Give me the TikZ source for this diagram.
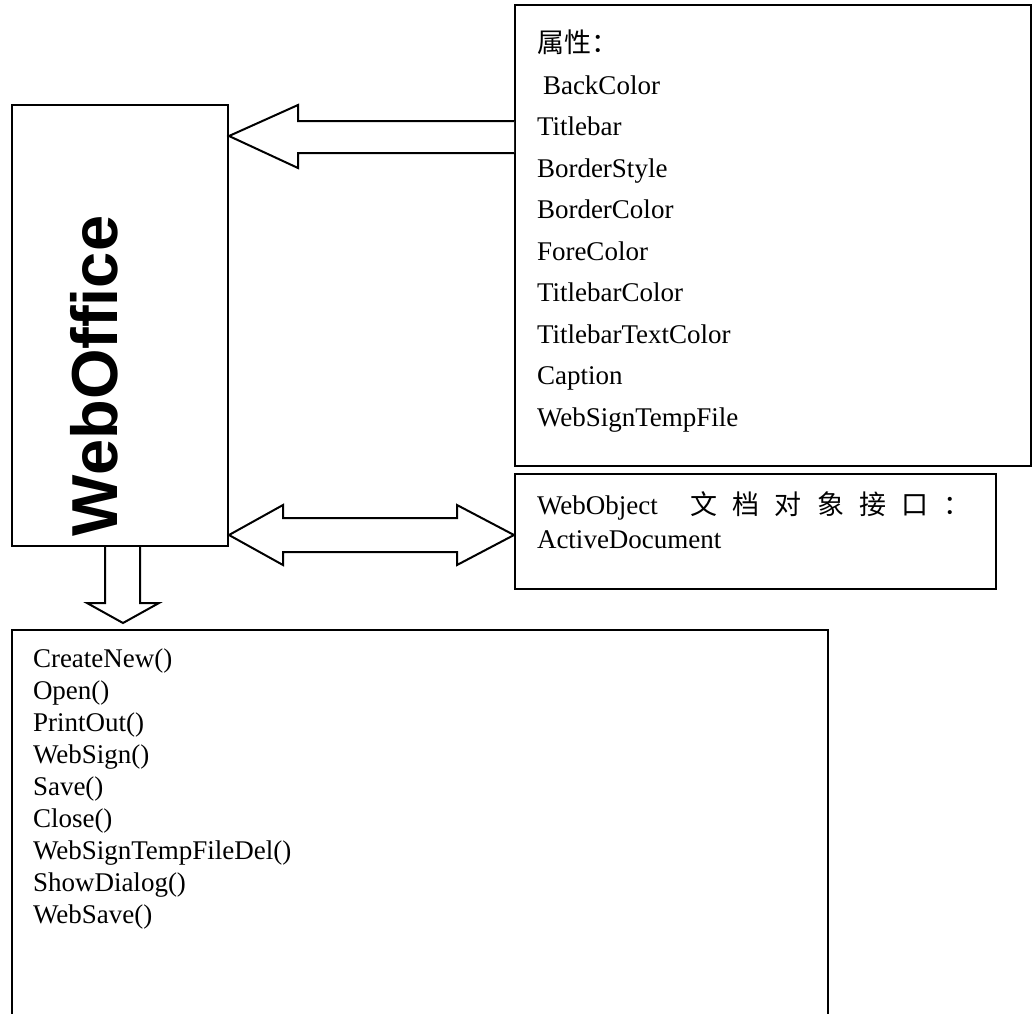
\documentclass[tikz,border=0pt]{standalone}
\usepackage{fontspec}
\setmainfont{Liberation Serif}
\newfontfamily\cjk{Noto Sans CJK SC}
\newfontfamily\titlefont{Liberation Sans}
\begin{document}
\begin{tikzpicture}[x=1pt,y=-1pt,line width=2pt,line join=miter,
  box/.style={draw,rectangle,inner sep=0pt,anchor=north west},
  txt/.style={anchor=base west,inner sep=0pt,font=\fontsize{27}{32}\selectfont},
  hollow/.style={draw,fill=white,line join=miter}]
\useasboundingbox (0,0) rectangle (1033,1013);
% boxes
\node[box,minimum width=216pt,minimum height=441pt] (wo) at (11,104) {};
\node[box,minimum width=516pt,minimum height=461pt] (props) at (514,4) {};
\node[box,minimum width=481pt,minimum height=115pt] (wobj) at (514,473) {};
\node[box,minimum width=816pt,minimum height=420pt] (meth) at (11,629) {};
% title
\node[rotate=90,anchor=base west,inner sep=0pt,font=\titlefont\bfseries\fontsize{65}{65}\selectfont] (title) at (117,537) {WebOffice};
% arrow props -> WebOffice
\coordinate (t1) at (wo.east |- 0,136);
\draw[hollow] (props.west |- 0,121) -- (298,121) -- (298,105) -- (t1) -- (298,168) -- (298,153) -- (props.west |- 0,153);
% double arrow
\coordinate (t2) at (wo.east |- 0,535);
\coordinate (t3) at (wobj.west |- 0,535);
\draw[hollow] (t2) -- (283,505) -- (283,518) -- (457,518) -- (457,505) -- (t3) -- (457,565) -- (457,552) -- (283,552) -- (283,565) -- cycle;
% down arrow
\coordinate (t4) at (123,623);
\draw[hollow] (105,0 |- wo.south) -- (105,603) -- (87,603) -- (t4) -- (159,603) -- (140,603) -- (140,0 |- wo.south);
% properties
\node[txt] (p0) at (536,52) {\cjk 属性：};
\foreach \t [count=\i] in {BackColor,Titlebar,BorderStyle,BorderColor,ForeColor,TitlebarColor,TitlebarTextColor,Caption,WebSignTempFile}
  \node[txt] (p\i) at ({\i==1 ? 542 : 536},52.5+41.5*\i) {\t};
% WebObject
\node[txt] (o1) at (536,514) {\makebox[434pt][l]{WebObject\hspace{17pt}\hfill{\cjk 文}\hfill{\cjk 档}\hfill{\cjk 对}\hfill{\cjk 象}\hfill{\cjk 接}\hfill{\cjk 口}\hfill{\cjk ：}}};
\node[txt] (o2) at (536,548) {ActiveDocument};
% methods
\foreach \t [count=\i] in {CreateNew(),Open(),PrintOut(),WebSign(),Save(),Close(),WebSignTempFileDel(),ShowDialog(),WebSave()}
  \node[txt] (m\i) at (32,635+32*\i) {\t};
\end{tikzpicture}
\end{document}
